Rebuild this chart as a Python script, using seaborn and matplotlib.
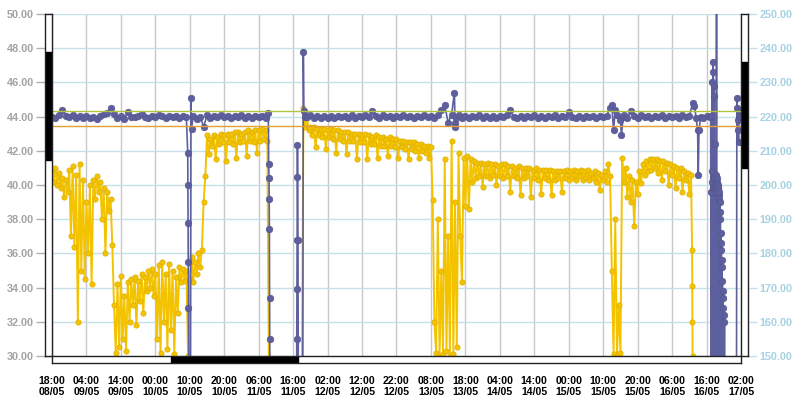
import numpy as np
import pandas as pd
import matplotlib
matplotlib.use("Agg")
import matplotlib.pyplot as plt
import seaborn as sns

# ---------------- data ----------------
X_TICK_LABELS = ["18:00\n08/05", "04:00\n09/05", "14:00\n09/05", "00:00\n10/05",
                 "10:00\n10/05", "20:00\n10/05", "06:00\n11/05", "16:00\n11/05",
                 "02:00\n12/05", "12:00\n12/05", "22:00\n12/05", "08:00\n13/05",
                 "18:00\n13/05", "04:00\n14/05", "14:00\n14/05", "00:00\n15/05",
                 "10:00\n15/05", "20:00\n15/05", "06:00\n16/05", "16:00\n16/05",
                 "02:00\n17/05"]
X_TICK_HOURS = list(range(0, 201, 10))        # hours since 08/05 18:00
LEFT_TICKS = [30, 32, 34, 36, 38, 40, 42, 44, 46, 48, 50]
RIGHT_TICKS = [150, 160, 170, 180, 190, 200, 210, 220, 230, 240, 250]
UPPER_LIMIT = 44.35
LOWER_LIMIT = 43.45

# yellow series (left axis), sampled every 0.5 h from each start hour
YEL_STEP = 0.5
YEL_A_START = 0.0
YEL_A = [40.9, 40.2, 41.0, 40.0, 40.7, 39.8,
         40.4, 39.3, 40.3, 39.6,
         40.9, 37.0, 41.1, 36.4, 40.6, 32.0, 41.2,
         35.0, 40.3, 34.5, 39.0, 36.0, 40.0, 34.2,
         40.3, 39.2, 40.5, 39.6, 40.2,
         38.0, 39.8, 36.0, 39.6, 38.5, 39.2,
         36.5, 33.0, 30.2,
         34.2, 30.5, 34.7, 31.0, 33.5, 30.3, 34.3,
         32.0, 34.5, 33.0, 34.6, 31.8, 34.4, 33.2, 34.8, 32.5, 34.6,
         33.8, 35.0, 34.0, 35.1, 33.5, 34.8,
         31.0, 35.3, 30.2, 35.5, 32.0, 34.8, 30.4, 35.4, 31.5, 35.0, 30.1, 34.6, 32.5,
         35.2, 34.3, 35.1, 34.4, 35.0, 30.0]
YEL_B_START = 40.0
YEL_B = [34.5, 35.8, 34.3, 35.5, 34.8, 36.0, 35.2,
         36.2,
         39.0, 40.5, 42.9, 41.8,
         42.7, 42.3, 42.9, 41.5, 42.8, 42.4, 43.0, 42.5, 42.9, 41.4,
         43.0, 42.5, 43.0, 42.4, 43.1, 41.6, 43.1, 42.5, 43.0, 42.6,
         43.1, 41.7, 43.2, 42.6, 43.1, 42.5, 43.2, 41.9, 43.2, 42.6,
         43.3, 42.7, 43.2, 42.6,
         28.0]
YEL_C_START = 72.5
YEL_C = [28.0, 44.5, 43.4, 44.0, 43.2]
YEL_D_START = 75.0
YEL_D = [43.4, 42.9, 43.4, 42.2, 43.3, 42.9, 43.3, 42.8, 43.3, 42.1,
         43.2, 42.8, 43.3, 42.7, 43.2, 41.9, 43.2, 42.7, 43.1, 42.6,
         43.1, 41.8, 43.1, 42.6, 43.0, 42.6, 43.0, 41.5, 43.0, 42.5,
         42.9, 42.5, 43.0, 41.5, 42.9, 42.4, 42.8, 42.4, 42.9, 41.6,
         42.8, 42.3, 42.8, 42.3, 42.7, 41.7, 42.8, 42.3, 42.7, 42.2,
         42.7, 41.6, 42.6, 42.2, 42.6, 42.1, 42.5, 41.5, 42.5, 42.1,
         42.5, 42.0, 42.4, 41.6, 42.4, 42.0, 42.3, 41.9, 42.3, 41.6,
         42.2]
YEL_E_START = 110.5
YEL_E = [39.1, 32.0, 30.2, 38.0, 30.0, 35.0, 30.1, 41.5, 30.3, 37.0,
         30.0, 42.6, 30.1, 39.0, 30.5]
YEL_F_START = 118.0
YEL_F = [41.9, 37.0, 34.3, 41.6, 38.8, 41.7, 38.6]
YEL_G_START = 121.5
YEL_G = [41.5, 40.2, 41.4, 40.4, 41.3, 40.5, 41.3, 39.9, 41.2, 40.5,
         41.3, 40.4, 41.2, 40.6, 41.2, 40.0, 41.1, 40.5, 41.2, 40.4]
YEL_H_START = 131.5
YEL_H = [41.2, 40.5, 41.1, 39.6, 41.1, 40.5, 41.0, 40.4, 41.1, 39.4,
         41.0, 40.4, 41.0, 40.5, 41.0, 39.3, 40.9, 40.4, 41.0, 40.3,
         40.9, 39.5, 40.9, 40.4, 40.9, 40.3, 40.9, 39.4, 40.8, 40.3,
         40.8, 40.4, 40.8, 39.6, 40.8, 40.4, 40.9, 40.3, 40.8]
YEL_I_START = 151.0
YEL_I = [40.4, 40.9, 40.3, 40.8, 40.5, 40.9, 40.3, 40.8, 40.4, 40.9,
         40.3, 40.7, 40.4, 40.8, 40.2, 40.7, 39.7, 40.6, 40.3, 40.8,
         40.2, 41.2, 40.5]
YEL_J_START = 162.5
YEL_J = [35.0, 30.1, 38.0, 30.0, 33.0, 30.2]
YEL_K_START = 165.5
YEL_K = [41.6,
         40.2, 41.0, 39.3, 40.5, 39.0, 40.3, 37.6, 40.2, 39.5,
         40.8, 40.1, 41.2, 40.6, 41.4, 40.8, 41.5, 40.9, 41.5, 41.0, 41.5, 40.7, 41.4,
         40.3, 41.4, 40.8, 41.3, 40.0, 41.2, 40.6, 41.1, 39.8, 41.0, 40.4, 41.0,
         39.6, 40.8, 40.3, 40.7, 39.5, 40.6]
YEL_TAIL_T = [185.8, 185.85, 185.9, 185.95, 186.0]
YEL_TAIL_V = [36.2, 34.1, 32.0, 30.0, 28.0]

# blue series (right axis), sampled every 1 h from each start hour
BLU_STEP = 1.0
BLU_A_START = 0.0
BLU_A = [220.0, 219.6, 220.6, 222.0, 220.2, 219.8, 220.4, 219.6, 220.2, 219.5,
         220.3, 219.7, 220.0, 219.4, 220.2, 220.8, 221.0, 222.6, 220.8, 219.6,
         220.2, 219.4, 221.2, 220.0, 219.8, 220.2, 220.9, 220.0, 219.7, 220.3,
         219.8, 220.6, 220.1, 219.7, 220.3, 219.9, 220.1, 219.6, 220.2, 219.8]
BLU_DIP1_T = [39.4, 39.45, 39.5, 39.55, 39.6, 39.7, 40.2, 40.35, 40.5]
BLU_DIP1_V = [209.5, 200.0, 189.0, 177.5, 164.0, 145.0, 145.0, 225.5, 216.5]
BLU_B_START = 41.0
BLU_B = [220.2, 219.4, 220.0, 217.0, 220.4, 219.7, 220.3, 219.9, 220.5, 219.8,
         220.3, 219.6, 220.2, 219.8, 220.4, 219.7, 220.1, 219.6, 220.3, 219.8,
         220.3, 219.7]
BLU_DROP_T = [62.8, 62.9, 63.0, 63.05, 63.1, 63.15, 63.2, 63.3,
              71.0, 71.05, 71.1, 71.15, 71.2, 71.25, 71.4, 71.5,
              72.8, 72.95, 73.1, 73.5]
BLU_DROP_V = [221.0, 206.0, 202.0, 196.0, 187.0, 167.0, 155.0, 140.0,
              140.0, 155.0, 169.5, 184.0, 202.4, 211.7, 184.0, 140.0,
              140.0, 239.0, 221.5, 220.0]
BLU_C_START = 74.0
BLU_C = [219.8, 220.4, 219.5, 220.2, 219.7, 220.3, 219.6, 220.1, 219.6, 220.3,
         219.8, 220.2, 219.5, 220.4, 219.7, 220.2, 219.8, 220.5, 219.9, 221.5,
         220.2, 219.7, 220.4, 219.8, 220.3, 219.6, 220.2, 219.8, 220.5, 219.9,
         220.3, 219.7, 220.2, 219.8, 220.4, 220.0, 220.3, 219.6, 220.5, 222.0,
         223.3, 218.2, 220.6]
BLU_SPIKE_T = [116.8, 117.0, 117.1, 117.3]
BLU_SPIKE_V = [227.0, 218.0, 217.0, 219.5]
BLU_D_START = 118.0
BLU_D = [220.4, 219.6, 220.3, 219.7, 220.2, 219.8, 220.4, 219.6, 220.1, 219.7,
         220.3, 219.5, 220.2, 219.8, 220.4, 221.8, 220.0, 219.6, 220.3, 219.7,
         220.2, 219.8, 220.5, 219.7, 220.1, 219.6, 220.3, 219.8, 220.4, 219.7,
         220.2, 219.9, 221.2, 220.0, 219.6, 220.3, 219.7, 220.2, 219.8, 220.3,
         219.6, 220.2, 219.8, 220.3]
BLU_WIG_T = [162.0, 162.5, 163.0, 163.5, 164.0, 165.0, 165.3, 165.8]
BLU_WIG_V = [222.5, 223.5, 216.0, 222.0, 220.5, 219.0, 214.5, 220.0]
BLU_E_START = 166.0
BLU_E = [220.4, 219.6, 221.5, 220.2, 219.6, 220.4, 219.8, 220.2, 219.6, 220.3,
         219.8, 220.4, 219.7, 220.2, 219.8, 220.3, 219.6, 220.4, 219.8, 220.2]
BLU_DIP2_T = [186.0, 186.5, 187.0, 187.4, 187.6, 187.8, 188.3, 189.0, 190.0, 191.0, 191.2]
BLU_DIP2_V = [224.0, 223.0, 219.5, 216.0, 203.0, 216.0, 220.0, 219.7, 220.3, 219.8, 220.2]
BLU_MASS_T = [191.3, 191.35, 191.4, 191.45, 191.5, 191.55, 191.6, 191.65, 191.7, 191.75,
              191.8, 191.85, 191.9, 191.95, 192.0, 192.05, 192.1, 192.15, 192.2, 192.25,
              192.3, 192.35, 192.4, 192.45, 192.5, 192.55, 192.6, 192.65, 192.7, 192.75,
              192.8, 192.85, 192.9, 192.95, 193.0, 193.05, 193.1, 193.15, 193.2, 193.25,
              193.3, 193.35, 193.4, 193.45, 193.5, 193.55, 193.6, 193.65, 193.7, 193.75,
              193.8, 193.85, 193.9, 193.95, 194.0, 194.05, 194.1, 194.15, 194.2, 194.25,
              194.3, 194.35, 194.4, 194.45, 194.5, 194.55, 194.6, 194.65, 194.7, 194.75,
              194.8, 194.85, 194.9, 194.95, 195.0, 195.1, 195.2, 195.3, 195.4]
BLU_MASS_V = [145, 198, 146, 201, 145, 204, 147, 230, 145, 199,
              146, 236, 145, 233, 147, 229, 145, 202, 146, 226,
              145, 200, 146, 212, 145, 199, 147, 203, 145, 200,
              146, 198, 258, 145, 201, 146, 202, 145, 199, 147,
              200, 145, 199, 146, 197, 145, 198, 146, 196, 145,
              195, 147, 192, 145, 190, 146, 186, 145, 183, 147,
              181, 145, 178, 146, 176, 145, 172, 147, 169, 145,
              167, 146, 164, 145, 162, 147, 160, 145, 145]
BLU_END_T = [195.6, 198.7, 198.8, 198.9, 199.0, 199.15, 199.3, 199.45, 199.6, 199.8, 200.0]
BLU_END_V = [145.0, 145.0, 225.5, 222.5, 219.0, 216.0, 212.5, 220.5, 221.5, 219.8, 220.3]

# navigator (scroll bar) ranges
LEFT_NAV = (41.45, 47.8)
RIGHT_NAV = (41.0, 47.2)
BOTTOM_NAV = (34.5, 71.4)


def grid_piece(start, step, vals):
    return [start + step * i for i in range(len(vals))], list(vals)


def assemble(pieces):
    ts, vs = [], []
    for t, v in pieces:
        ts.extend(t)
        vs.extend(v)
    return pd.DataFrame({"hours": ts, "value": vs})


yellow = assemble([
    grid_piece(YEL_A_START, YEL_STEP, YEL_A),
    grid_piece(YEL_B_START, YEL_STEP, YEL_B),
    grid_piece(YEL_C_START, YEL_STEP, YEL_C),
    grid_piece(YEL_D_START, YEL_STEP, YEL_D),
    grid_piece(YEL_E_START, YEL_STEP, YEL_E),
    grid_piece(YEL_F_START, YEL_STEP, YEL_F),
    grid_piece(YEL_G_START, YEL_STEP, YEL_G),
    grid_piece(YEL_H_START, YEL_STEP, YEL_H),
    grid_piece(YEL_I_START, YEL_STEP, YEL_I),
    grid_piece(YEL_J_START, YEL_STEP, YEL_J),
    grid_piece(YEL_K_START, YEL_STEP, YEL_K),
    (YEL_TAIL_T, YEL_TAIL_V),
])

blue = assemble([
    grid_piece(BLU_A_START, BLU_STEP, BLU_A),
    (BLU_DIP1_T, BLU_DIP1_V),
    grid_piece(BLU_B_START, BLU_STEP, BLU_B),
    (BLU_DROP_T, BLU_DROP_V),
    grid_piece(BLU_C_START, BLU_STEP, BLU_C),
    (BLU_SPIKE_T, BLU_SPIKE_V),
    grid_piece(BLU_D_START, BLU_STEP, BLU_D),
    (BLU_WIG_T, BLU_WIG_V),
    grid_piece(BLU_E_START, BLU_STEP, BLU_E),
    (BLU_DIP2_T, BLU_DIP2_V),
    (BLU_MASS_T, BLU_MASS_V),
    (BLU_END_T, BLU_END_V),
])

# ---------------- style ----------------
sns.set_style("white")
plt.rcParams["font.family"] = ["Liberation Sans", "DejaVu Sans"]
plt.rcParams["font.weight"] = "bold"

W, H = 802, 404
fig = plt.figure(figsize=(W / 100, H / 100), dpi=100)
fig.patch.set_facecolor("white")

PL, PR, PT, PB = 52, 741, 14, 356
ax = fig.add_axes([PL / W, (H - PB) / H, (PR - PL) / W, (PB - PT) / H])
ax.set_facecolor("white")
ax.set_xlim(0, 200)
ax.set_ylim(30, 50)
ax.set_axisbelow(True)
for s in ax.spines.values():
    s.set_visible(False)

ax.set_yticks(LEFT_TICKS)
ax.set_yticklabels([f"{v:.2f}" for v in LEFT_TICKS])
ax.set_xticks(X_TICK_HOURS)
ax.set_xticklabels(X_TICK_LABELS)
ax.tick_params(axis="y", length=11.5, width=1, color="#b0b0b0", labelcolor="#a3a3a3",
               labelsize=7.8, pad=1.5)
ax.tick_params(axis="x", length=10, width=1, color="#303030", labelcolor="black",
               labelsize=7.6, pad=4.5)
for lab in ax.get_xticklabels() + ax.get_yticklabels():
    lab.set_fontweight("bold")
    lab.set_linespacing(1.15)
ax.xaxis.grid(True, color="#c8c8cc", linewidth=1)
ax.yaxis.grid(True, color="#c6e0ea", linewidth=1)

sns.lineplot(data=yellow, x="hours", y="value", ax=ax, sort=False, estimator=None,
             color="#F4C300", linewidth=1.4, marker="o", markersize=3.8,
             markeredgecolor="#DDAE00", markeredgewidth=0.5, legend=False, zorder=3)
ax.set_xlabel("")
ax.set_ylabel("")

ax2 = ax.twinx()
ax2.set_ylim(150, 250)
ax2.set_xlim(0, 200)
for s in ax2.spines.values():
    s.set_visible(False)
sns.lineplot(data=blue, x="hours", y="value", ax=ax2, sort=False, estimator=None,
             color="#5D5F9E", linewidth=1.2, marker="o", markersize=4.7,
             markeredgecolor="#55578F", markeredgewidth=0.5, legend=False, zorder=3)
ax2.set_xlabel("")
ax2.set_ylabel("")
ax2.set_yticks(RIGHT_TICKS)
ax2.set_yticklabels([f"{v:.2f}" for v in RIGHT_TICKS])
ax2.tick_params(axis="y", length=11.5, width=1, color="#c6e0ea", labelcolor="#a6d2e2",
                labelsize=7.8, pad=2)
for lab in ax2.get_yticklabels():
    lab.set_fontweight("bold")

ax2.axhline(150 + (UPPER_LIMIT - 30) * 5, color="#b2c43a", linewidth=1.0, zorder=5)
ax2.axhline(150 + (LOWER_LIMIT - 30) * 5, color="#e2a030", linewidth=1.0, zorder=5)

# navigator strips
left = fig.add_axes([45 / W, (H - PB) / H, 7 / W, (PB - PT) / H])
left.set_xlim(0, 1)
left.set_ylim(30, 50)
left.axhspan(*LEFT_NAV, color="black")
right = fig.add_axes([741 / W, (H - PB) / H, 7 / W, (PB - PT) / H])
right.set_xlim(0, 1)
right.set_ylim(30, 50)
right.axhspan(*RIGHT_NAV, color="black")
bottom = fig.add_axes([PL / W, (H - 363) / H, (PR - PL) / W, 7 / H])
bottom.set_xlim(0, 200)
bottom.set_ylim(0, 1)
bottom.axvspan(*BOTTOM_NAV, color="black")
for a in (left, right, bottom):
    a.set_facecolor("white")
    a.set_xticks([])
    a.set_yticks([])
    for s in a.spines.values():
        s.set_color("#222222")
        s.set_linewidth(1)

fig.savefig("out.png", dpi=100, facecolor="white")
